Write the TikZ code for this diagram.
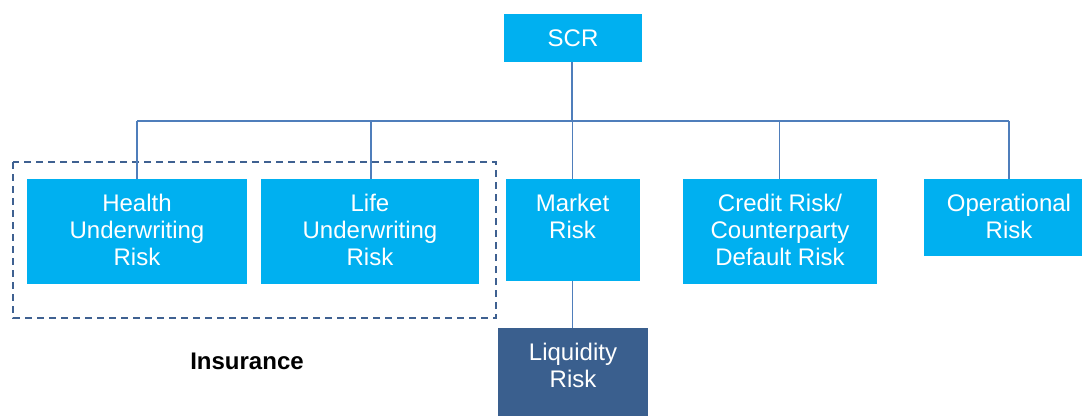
\documentclass[tikz,border=0pt]{standalone}
\usepackage{fontspec}
\setmainfont{Liberation Sans}
\definecolor{boxblue}{HTML}{00B0F0}
\definecolor{darkbox}{HTML}{3A5F8E}
\definecolor{linkblue}{HTML}{4F7EBB}
\definecolor{dashblue}{HTML}{3F6191}
\tikzset{
  riskbox/.style={fill=boxblue, draw=none, inner sep=0pt},
  darkrisk/.style={fill=darkbox, draw=none, inner sep=0pt},
  boxtext/.style={text=white, align=center, inner sep=0pt, anchor=base, font=\fontsize{24}{27}\selectfont},
  link/.style={draw=linkblue, line width=1.6pt},
  mainlink/.style={draw=linkblue, line width=2pt},
  groupframe/.style={draw=dashblue, line width=1.6pt, dash pattern=on 7pt off 5pt},
}
\begin{document}
\begin{tikzpicture}[x=1pt,y=-1pt]
\useasboundingbox (0,0) rectangle (1082,416);
\clip (0,0) rectangle (1082,416);
% boxes
\node[riskbox, minimum width=138, minimum height=48] (scr) at (573,38) {};
\node[riskbox, minimum width=220, minimum height=105] (health) at (137,231.5) {};
\node[riskbox, minimum width=218, minimum height=105] (life) at (370,231.5) {};
\node[riskbox, minimum width=134, minimum height=102] (market) at (572.5,230) {};
\node[riskbox, minimum width=194, minimum height=105] (credit) at (780,231.5) {};
\node[riskbox, minimum width=170, minimum height=77] (oper) at (1009,217.5) {};
\node[darkrisk, minimum width=150, minimum height=88] (liq) at (573,372) {};
% texts (base anchor = baseline of the last line)
\node[boxtext] (scrt) at ([yshift=-33]scr.north) {SCR};
\node[boxtext] (healtht) at ([yshift=-87]health.north) {Health\\Underwriting\\Risk};
\node[boxtext] (lifet) at ([yshift=-87]life.north) {Life\\Underwriting\\Risk};
\node[boxtext] (markett) at ([yshift=-60]market.north) {Market\\Risk};
\node[boxtext] (creditt) at ([yshift=-87]credit.north) {Credit Risk/\\Counterparty\\Default Risk};
\node[boxtext] (opert) at ([yshift=-60]oper.north) {Operational\\Risk};
\node[boxtext] (liqt) at ([yshift=-60]liq.north) {Liquidity\\Risk};
% group frame and label
\draw[groupframe] (13,162) rectangle (496,318);
\node[font=\fontsize{24}{27}\selectfont\bfseries, text=black, inner sep=0pt] (ins) at (247,361) {Insurance};
% connectors
\coordinate (bus) at (0,121);
\draw[mainlink] ([xshift=-1]scr.south) -- ([xshift=-1]scr.south |- bus);
\draw[mainlink] (health.north |- bus) -- (oper.north |- bus);
\draw[link] (health.north) -- (health.north |- bus);
\draw[link] ([xshift=1]life.north) -- ([xshift=1]life.north |- bus);
\draw[link] (market.north) -- (market.north |- bus);
\draw[link] ([xshift=-0.5]credit.north) -- ([xshift=-0.5]credit.north |- bus);
\draw[link] (oper.north) -- (oper.north |- bus);
\draw[link] (market.south) -- (market.south |- liq.north);
\end{tikzpicture}
\end{document}
